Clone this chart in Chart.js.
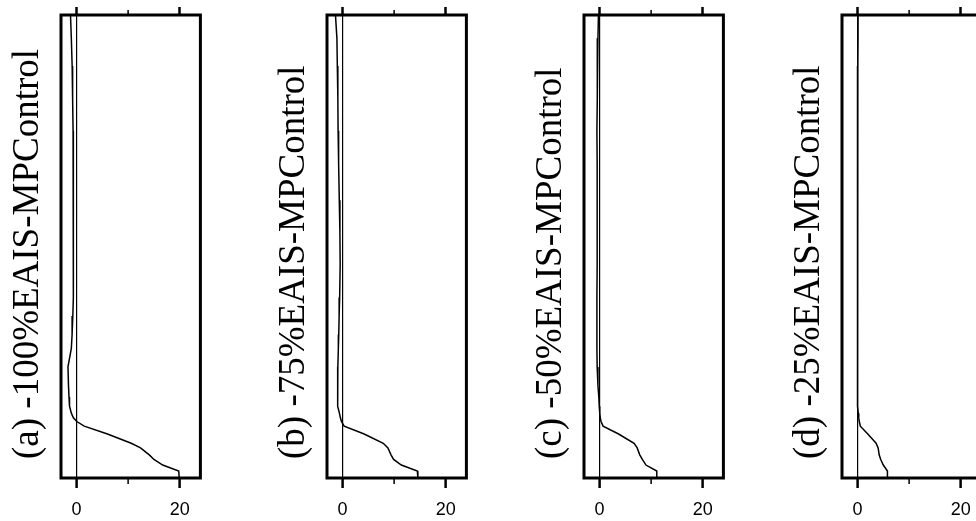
<!DOCTYPE html>
<html>
<head>
<meta charset="utf-8">
<script src="https://cdn.jsdelivr.net/npm/chart.js@4/dist/chart.umd.min.js"></script>
<style>
  html, body { margin: 0; padding: 0; background: #fff; width: 976px; height: 521px; overflow: hidden; }
  .panel { position: absolute; top: 0; width: 266px; height: 521px; }
</style>
</head>
<body>
<div class="panel" style="left:0px"><canvas id="c0" width="266" height="521"></canvas></div>
<div class="panel" style="left:266px"><canvas id="c1" width="266" height="521"></canvas></div>
<div class="panel" style="left:523px"><canvas id="c2" width="266" height="521"></canvas></div>
<div class="panel" style="left:781px"><canvas id="c3" width="266" height="521"></canvas></div>
<script>
// ---- data ----
const panelTitles = ['(a) -100%EAIS-MPControl', '(b) -75%EAIS-MPControl', '(c) -50%EAIS-MPControl', '(d) -25%EAIS-MPControl'];
// vertical level (0 = top of panel, 100 = bottom of panel)
const levels = [0, 5, 11, 18, 25, 32, 40, 47, 54, 61, 65, 69, 72, 76, 80, 82.5, 84.5, 86, 87, 87.8, 88.8, 90.5, 92.5, 93.5, 95, 96, 97.2, 98.5, 100];
const seriesA = [-1.16, -1.0, -0.84, -0.75, -0.66, -0.62, -0.58, -0.6, -0.58, -0.65, -0.71, -0.85, -1.0, -1.65, -1.55, -1.45, -1.35, -1.0, -0.6, 0.06, 1.5, 6.0, 10.6, 12.4, 14.1, 15.0, 16.7, 19.8, 19.9];
const seriesB = [-1.36, -1.08, -1.0, -0.9, -0.85, -0.75, -0.62, -0.5, -0.45, -0.55, -0.65, -0.72, -0.8, -0.9, -0.95, -0.95, -0.9, -0.6, -0.4, -0.2, 0.33, 4.2, 7.9, 8.8, 9.4, 9.9, 11.4, 14.5, 14.6];
const seriesC = [-0.2, -0.3, -0.4, -0.45, -0.5, -0.45, -0.45, -0.45, -0.45, -0.5, -0.5, -0.5, -0.5, -0.45, -0.3, -0.13, -0.05, 0.05, 0.15, 0.3, 0.7, 3.7, 6.7, 7.3, 7.8, 8.3, 9.0, 11.1, 11.1];
const seriesD = [0.1, 0.1, 0.05, 0.05, 0, 0, 0, -0.05, 0, 0, 0, 0, 0, 0, 0, 0, 0.05, 0.15, 0.25, 0.35, 0.55, 2.0, 3.6, 4.0, 4.2, 4.5, 5.0, 5.8, 5.8];
const allSeries = [seriesA, seriesB, seriesC, seriesD];
const xMin = -3, xMax = 24;
const majorTicks = [0, 20];
const minorTicks = [10];
const tickLabels = ['0', '20'];

// ---- plugins ----
const framePlugin = {
  id: 'frame',
  afterDraw(chart) {
    const ctx = chart.ctx, a = chart.chartArea;
    ctx.save();
    ctx.strokeStyle = '#000';
    ctx.lineWidth = 3;
    ctx.strokeRect(a.left, a.top, a.right - a.left, a.bottom - a.top);
    // minor ticks
    ctx.lineWidth = 1.5;
    minorTicks.forEach(v => {
      const px = chart.scales.x.getPixelForValue(v);
      ctx.beginPath();
      ctx.moveTo(px, a.bottom); ctx.lineTo(px, a.bottom + 6);
      ctx.moveTo(px, a.top); ctx.lineTo(px, a.top - 5);
      ctx.stroke();
    });
    // rotated title
    const t = chart.options.plugins.panelTitle.text;
    ctx.translate(a.left - 33, 459);
    ctx.rotate(-Math.PI / 2);
    ctx.font = '37px "Liberation Serif"';
    ctx.textAlign = 'left';
    ctx.textBaseline = 'middle';
    ctx.fillStyle = '#000';
    ctx.fillText(t, 0, 0);
    ctx.restore();
  }
};

function makeChart(i) {
  const data = levels.map((lv, k) => ({ x: allSeries[i][k], y: lv }));
  return new Chart(document.getElementById('c' + i), {
    type: 'line',
    data: {
      datasets: [{
        data: data,
        borderColor: '#000',
        borderWidth: 1.5,
        pointRadius: 0,
        tension: 0,
        fill: false
      }]
    },
    options: {
      responsive: false,
      animation: false,
      events: [],
      layout: { padding: { left: 61, right: 65.6, top: 0, bottom: 0 } },
      plugins: {
        legend: { display: false },
        tooltip: { enabled: false },
        panelTitle: { text: panelTitles[i] }
      },
      scales: {
        x: {
          type: 'linear',
          position: 'bottom',
          min: xMin, max: xMax,
          afterBuildTicks: s => { s.ticks = majorTicks.map(v => ({ value: v })); },
          afterFit: s => { s.height = 43; },
          border: { display: false },
          grid: {
            drawOnChartArea: true,
            color: c => (c.tick && c.tick.value === 0) ? '#000' : 'rgba(0,0,0,0)',
            lineWidth: 1.2,
            drawTicks: true,
            tickLength: 10,
            tickWidth: 2.5,
            tickColor: '#000'
          },
          ticks: {
            color: '#000',
            padding: 11,
            maxRotation: 0,
            font: { family: '"Liberation Sans"', size: 18 },
            callback: (v) => tickLabels[majorTicks.indexOf(v)]
          }
        },
        x2: {
          type: 'linear',
          position: 'top',
          min: xMin, max: xMax,
          afterBuildTicks: s => { s.ticks = majorTicks.map(v => ({ value: v })); },
          afterFit: s => { s.height = 15; },
          border: { display: false },
          grid: {
            drawOnChartArea: false,
            drawTicks: true,
            tickLength: 8,
            tickWidth: 2.5,
            tickColor: '#000',
            color: '#000'
          },
          ticks: { display: false }
        },
        y: {
          type: 'linear',
          min: 0, max: 100,
          reverse: true,
          display: false
        }
      }
    },
    plugins: [framePlugin]
  });
}
for (let i = 0; i < 4; i++) makeChart(i);
</script>
</body>
</html>
